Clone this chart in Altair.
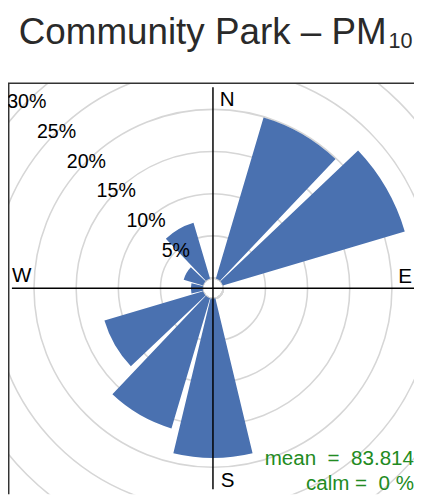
import altair as alt
import pandas as pd

# ---- data ----
directions = [0, 30, 60, 90, 120, 150, 180, 210, 240, 270, 300, 330]
frequency = [0.0, 19.9, 22.5, 0.0, 0.0, 0.0, 18.9, 16.1, 12.2, 1.4, 2.4, 6.9]
ring_levels = [0, 5, 10, 15, 20, 25, 30]
label_levels = [5, 10, 15, 20, 25, 30]
title_main = "Community Park \u2013 PM"
title_sub = "10"
NB = "\u00a0"
mean_text = "mean" + NB + " = " + NB + "83.814"
calm_text = "calm = " + NB + "0 %"

FONT = "Liberation Sans"
CX, CY = 209, 209
W, H = 414, 419

rose_df = pd.DataFrame({"direction": directions, "freq": frequency})
one = pd.DataFrame({"k": [0]})

theta_scale = alt.Scale(domain=[0, 360], range=[0, 6.283185307179586])
r_scale = alt.Scale(type="linear", domain=[0, 30], range=[10.5, 268.5], zero=False, nice=False)

rings = alt.Chart(pd.DataFrame({"level": ring_levels})).mark_arc(
    filled=False, stroke="#d6d6d6", strokeWidth=1.6, clip=True,
    theta=0, theta2=6.2832
).encode(
    radius=alt.Radius("level:Q", scale=r_scale, stack=None),
    x=alt.value(CX), y=alt.value(CY),
)

bars = alt.Chart(rose_df).transform_calculate(
    start="datum.direction - 13.5", end="datum.direction + 13.5"
).mark_arc(color="#4a71b0", clip=True).encode(
    theta=alt.Theta("start:Q", scale=theta_scale, stack=None),
    theta2="end:Q",
    radius=alt.Radius("freq:Q", scale=r_scale, stack=None),
    radius2=alt.value(10.5),
    x=alt.value(CX), y=alt.value(CY),
)

axis_h = alt.Chart(one).mark_rule(color="black", strokeWidth=1.5).encode(
    x=alt.value(4), x2=alt.value(414), y=alt.value(CY))
axis_v = alt.Chart(one).mark_rule(color="black", strokeWidth=1.5).encode(
    y=alt.value(4), y2=alt.value(414), x=alt.value(CX))

border_top = alt.Chart(one).mark_rule(color="#333333", strokeWidth=1.5).encode(
    x=alt.value(0), x2=alt.value(W), y=alt.value(0))
border_left = alt.Chart(one).mark_rule(color="#333333", strokeWidth=1.5).encode(
    y=alt.value(0), y2=alt.value(H), x=alt.value(0.75))

pct_labels = alt.Chart(pd.DataFrame({"level": label_levels})).transform_calculate(
    ang="315", txt="datum.level + '%'"
).mark_text(font=FONT, fontSize=20, color="black", align="center", baseline="middle").encode(
    theta=alt.Theta("ang:Q", scale=theta_scale, stack=None),
    radius=alt.Radius("level:Q", scale=r_scale, stack=None),
    x=alt.value(CX), y=alt.value(CY),
    text="txt:N",
)


def txt(s, x, y, size, align="left", color="black"):
    return alt.Chart(one).mark_text(
        text=s, font=FONT, fontSize=size, color=color, align=align, baseline="alphabetic"
    ).encode(x=alt.value(x), y=alt.value(y))


lab_n = txt("N", 216, 23, 21)
lab_e = txt("E", 412, 204, 21, align="right")
lab_w = txt("W", 4, 203, 21)
lab_s = txt("S", 217, 412, 21)

mean_lab = txt(mean_text, 414, 389, 21, align="right", color="#228B22")
calm_lab = txt(calm_text, 414, 415, 21, align="right", color="#228B22")

title_a = txt(title_main, 386, -40, 37.5, align="right", color="#2a2a2a")
title_b = txt(title_sub, 388, -36, 22, align="left", color="#2a2a2a")

chart = alt.layer(
    rings, bars, axis_h, axis_v, border_top, border_left, pct_labels,
    lab_n, lab_e, lab_w, lab_s, mean_lab, calm_lab, title_a, title_b
).properties(
    width=W, height=H,
    padding={"left": 0, "top": 72, "right": 0, "bottom": 0},
    autosize=alt.AutoSizeParams(type="none"),
).configure_view(strokeWidth=0)

chart.save("out.html", embed_options={"renderer": "svg", "actions": False})
